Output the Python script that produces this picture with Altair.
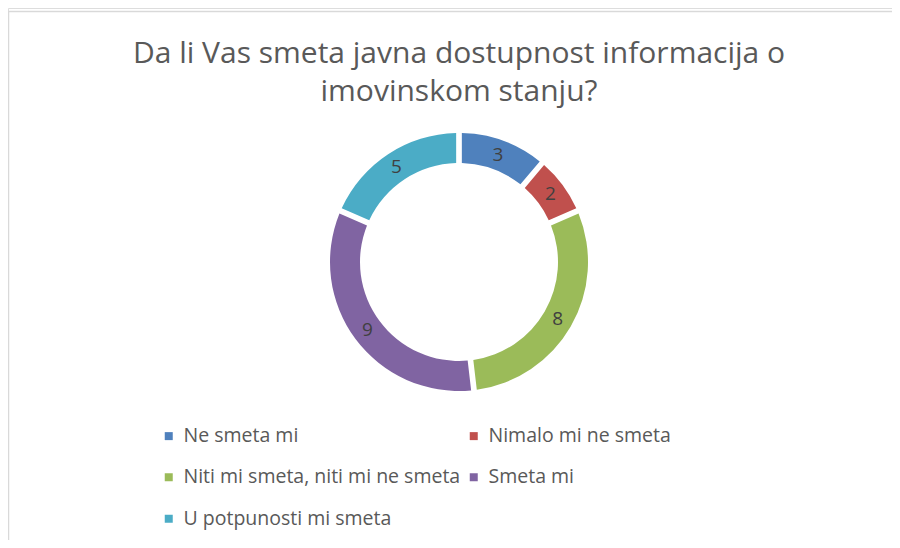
import altair as alt
import pandas as pd

categories = ["Ne smeta mi", "Nimalo mi ne smeta", "Niti mi smeta, niti mi ne smeta",
              "Smeta mi", "U potpunosti mi smeta"]
values = [3, 2, 8, 9, 5]
colors = ["#4F81BD", "#C0504D", "#9BBB59", "#8064A2", "#4BACC6"]
title_lines = ["Da li Vas smeta javna dostupnost informacija o", "imovinskom stanju?"]

df = pd.DataFrame({"kategorija": categories, "broj": values, "idx": list(range(len(values)))})

W, H = 884, 532
CX, CY = 451, 254

base = alt.Chart(df).encode(
    theta=alt.Theta("broj:Q", stack=True),
    order=alt.Order("idx:Q"),
)

arcs = base.mark_arc(innerRadius=99, outerRadius=129, padAngle=0.035).encode(
    x=alt.value(CX), y=alt.value(CY),
    color=alt.Color(
        "kategorija:N",
        scale=alt.Scale(domain=categories, range=colors),
        sort=categories,
        legend=alt.Legend(
            title=None, orient="none", legendX=151, legendY=418, direction="horizontal",
            columns=2, symbolType="square", symbolSize=64, symbolStrokeWidth=0,
            labelFontSize=19.5, labelFont="Open Sans", labelColor="#595959",
            labelOffset=5, rowPadding=20.5, columnPadding=3, labelLimit=400,
        ),
    ),
)

labels = base.mark_text(radius=114, fontSize=19, font="Open Sans", color="#404040").encode(
    x=alt.value(CX), y=alt.value(CY),
    text=alt.Text("broj:Q"),
)

border_top = alt.Chart(alt.Data(values=[{}])).mark_rule(color="#d9d9d9", strokeWidth=1.5).encode(
    x=alt.value(0), x2=alt.value(W), y=alt.value(3.5)
)
border_left = alt.Chart(alt.Data(values=[{}])).mark_rule(color="#d9d9d9", strokeWidth=1.5).encode(
    x=alt.value(0.5), y=alt.value(3), y2=alt.value(H)
)

chart = alt.layer(border_top, border_left, arcs, labels).properties(
    width=W, height=H,
    autosize=alt.AutoSizeParams(type="none"),
    padding=0,
    title=alt.Title(
        text=title_lines, anchor="middle", fontSize=30, font="Open Sans",
        fontWeight="normal", color="#595959", lineHeight=38,
        baseline="alphabetic", offset=0, dy=123, dx=9,
    ),
).configure_view(stroke=None).configure(background="white")

chart.save("out.html", embed_options={"renderer": "svg", "actions": False})
